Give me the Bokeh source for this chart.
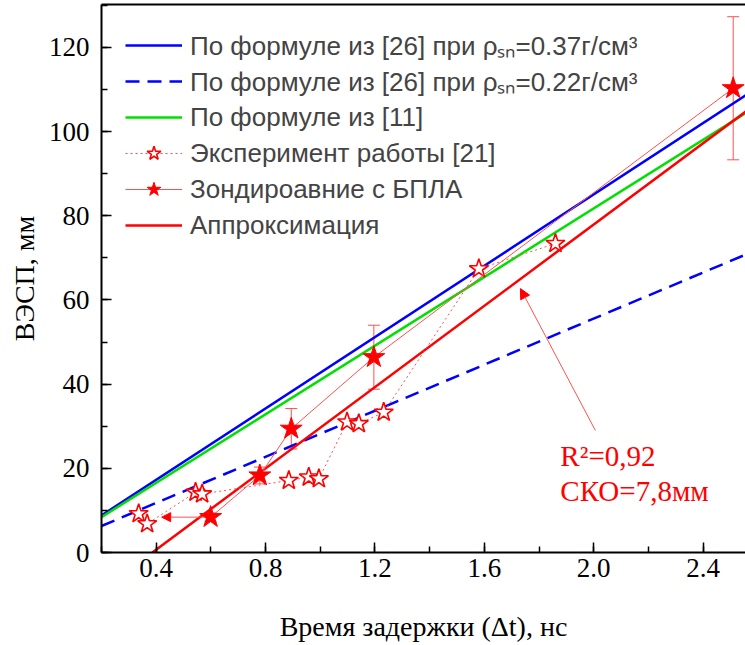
from bokeh.plotting import figure
from bokeh.models import (Range1d, LinearAxis, FixedTicker, SingleIntervalTicker, Legend,
                          LegendItem, Whisker, ColumnDataSource, Arrow, NormalHead, TeeHead,
                          Label, PrintfTickFormatter)
from bokeh.embed import file_html
from bokeh.resources import INLINE

# --- data ---
blue_x = [0.2, 2.6]
blue_y = [8.8, 110.5]          # По формуле из [26], ρ=0.37
dash_x = [0.2, 2.6]
dash_y = [6.3, 72.0]           # По формуле из [26], ρ=0.22
green_x = [0.2, 2.6]
green_y = [8.4, 106.2]         # По формуле из [11]
approx_x = [0.386, 2.6]
approx_y = [0.0, 106.9]        # Аппроксимация

exp_x = [0.336, 0.367, 0.544, 0.568, 0.885, 0.958, 0.995, 1.098, 1.141, 1.232, 1.58, 1.86]
exp_y = [9.2, 6.8, 14.3, 13.9, 17.1, 17.9, 17.5, 31.0, 30.6, 33.3, 67.4, 73.4]

uav_x = [0.599, 0.779, 0.894, 1.196, 2.51]
uav_y = [8.4, 18.3, 29.4, 46.4, 110.3]
uav_err = [1.0, 2.0, 4.8, 7.6, 17.0]

x_ticks_interval = 0.4
y_ticks_interval = 20

labels = ["По формуле из [26] при ρₛₙ=0.37г/см³",
          "По формуле из [26] при ρₛₙ=0.22г/см³",
          "По формуле из [11]",
          "Эксперимент работы [21]",
          "Зондироавние с БПЛА",
          "Аппроксимация"]

RED = "#ff0000"
BLUE = "#0000ff"
GREEN = "#00e000"
THIN_RED = "#ff5050"

p = figure(width=745, height=645, x_range=Range1d(0.2, 2.555), y_range=Range1d(0, 130.2),
           output_backend="svg", toolbar_location=None,
           min_border_left=101, min_border_right=0, min_border_top=4, min_border_bottom=93)
p.outline_line_color = None
p.grid.visible = False
p.background_fill_color = "white"
p.border_fill_color = "white"

# axes
for ax in (p.xaxis[0], p.yaxis[0]):
    ax.axis_line_width = 2
    ax.major_tick_in = 10
    ax.major_tick_out = 0
    ax.minor_tick_in = 6
    ax.minor_tick_out = 0
    ax.major_tick_line_width = 1.5
    ax.minor_tick_line_width = 1.5
    ax.major_label_text_font = "Liberation Serif"
    ax.major_label_text_font_size = "27px"
    ax.major_label_text_color = "black"
    ax.axis_label_text_font = "Liberation Serif"
    ax.axis_label_text_font_size = "28px"
    ax.axis_label_text_font_style = "normal"
    ax.axis_label_text_color = "black"

p.xaxis.ticker = SingleIntervalTicker(interval=x_ticks_interval, num_minor_ticks=2)
p.xaxis.formatter = PrintfTickFormatter(format="%.1f")
p.yaxis.ticker = SingleIntervalTicker(interval=y_ticks_interval, num_minor_ticks=2)
p.xaxis.axis_label = "Время задержки (Δt), нс"
p.yaxis.axis_label = "ВЭСП, мм"
p.xaxis.major_label_standoff = 6
p.xaxis.axis_label_standoff = 31
p.yaxis.major_label_standoff = 12
p.yaxis.axis_label_standoff = 6

top = LinearAxis(ticker=FixedTicker(ticks=[]), major_label_text_font_size="0px",
                 axis_line_width=2, major_tick_line_color=None, minor_tick_line_color=None,
                 major_label_standoff=0)
p.add_layout(top, "above")

# lines
r_blue = p.line(blue_x, blue_y, line_color=BLUE, line_width=2.5)
r_dash = p.line(dash_x, dash_y, line_color=BLUE, line_width=2.5, line_dash="14 8")
r_green = p.line(green_x, green_y, line_color=GREEN, line_width=2.5)
r_approx = p.line(approx_x, approx_y, line_color=RED, line_width=2.5)

# experiment [21]
r_exp_line = p.line(exp_x, exp_y, line_color=THIN_RED, line_width=1, line_dash="2 3")
r_exp_pts = p.scatter(exp_x, exp_y, marker="star", size=20, line_color=RED,
                      fill_color="white", line_width=1.6)

# UAV sounding
src = ColumnDataSource(dict(x=uav_x, y=uav_y,
                            lo=[v - e for v, e in zip(uav_y, uav_err)],
                            hi=[v + e for v, e in zip(uav_y, uav_err)]))
w = Whisker(source=src, base="x", upper="hi", lower="lo", line_color=THIN_RED, line_width=1,
            upper_head=TeeHead(size=12, line_color=THIN_RED, line_width=1),
            lower_head=TeeHead(size=12, line_color=THIN_RED, line_width=1))
p.add_layout(w)
r_uav_line = p.line("x", "y", source=src, line_color=THIN_RED, line_width=1)
r_uav_pts = p.scatter("x", "y", source=src, marker="star", size=23, line_color=RED,
                      fill_color=RED, line_width=1)

# annotations
p.add_layout(Arrow(end=NormalHead(size=9, fill_color=RED, line_color=RED, line_width=1),
                   x_start=0.575, y_start=8.4, x_end=0.42, y_end=8.4,
                   line_color=THIN_RED, line_width=1))
p.add_layout(Arrow(end=NormalHead(size=10, fill_color=RED, line_color=RED, line_width=1),
                   x_start=2.006, y_start=29.0, x_end=1.732, y_end=62.7,
                   line_color=THIN_RED, line_width=1))
p.add_layout(Label(x=1.878, y=23.0, text="R²=0,92", text_color=RED,
                   text_font="Liberation Serif", text_font_size="29px",
                   text_baseline="alphabetic"))
p.add_layout(Label(x=1.878, y=14.5, text="СКО=7,8мм", text_color=RED,
                   text_font="Liberation Serif", text_font_size="29px",
                   text_baseline="alphabetic"))

# legend
items = [LegendItem(label=labels[0], renderers=[r_blue]),
         LegendItem(label=labels[1], renderers=[r_dash]),
         LegendItem(label=labels[2], renderers=[r_green]),
         LegendItem(label=labels[3], renderers=[r_exp_line, r_exp_pts]),
         LegendItem(label=labels[4], renderers=[r_uav_line, r_uav_pts]),
         LegendItem(label=labels[5], renderers=[r_approx])]
legend = Legend(items=items, location=(24, 309), glyph_width=57, glyph_height=36,
                label_height=36, spacing=0, padding=0, margin=0, label_standoff=8,
                label_text_font="Liberation Sans", label_text_font_size="26px",
                border_line_color=None, background_fill_alpha=0)
p.add_layout(legend)

open("out.html", "w").write(file_html(p, INLINE))
